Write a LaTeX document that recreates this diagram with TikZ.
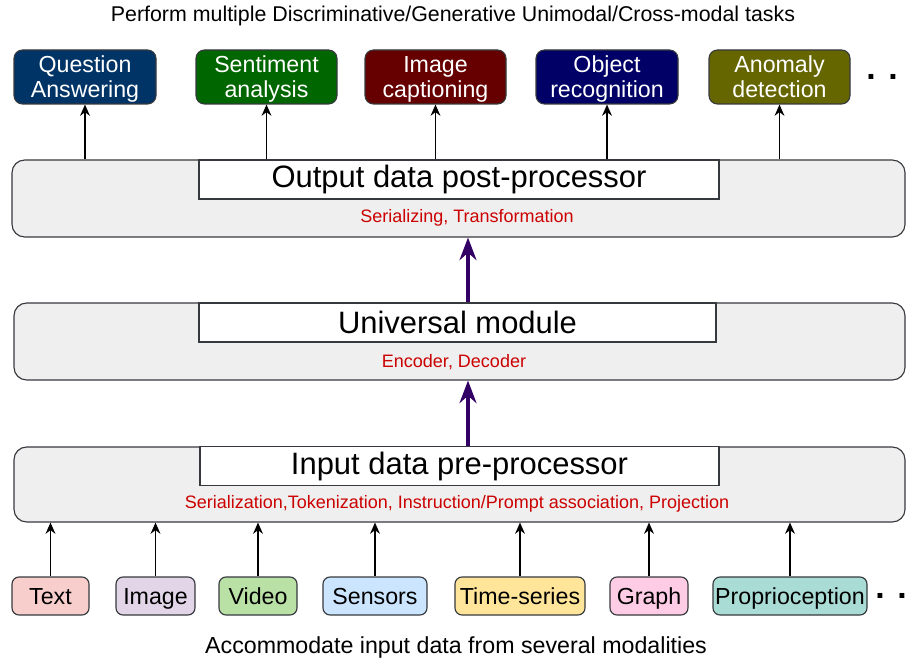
\documentclass[tikz,border=0pt]{standalone}
\usepackage{fontspec}
\setmainfont{Liberation Sans}
\usepackage{tikz}
\usetikzlibrary{positioning}
\usetikzlibrary{arrows.meta}
\usepackage{xcolor}

\definecolor{qablue}{HTML}{003366}
\definecolor{sentgreen}{HTML}{006600}
\definecolor{capred}{HTML}{660000}
\definecolor{objblue}{HTML}{000066}
\definecolor{anomolive}{HTML}{666600}
\definecolor{edgegray}{HTML}{36393D}
\definecolor{layergray}{HTML}{EFEFEF}
\definecolor{notered}{HTML}{CC0000}
\definecolor{flowpurple}{HTML}{330066}
\definecolor{textpink}{HTML}{F8CECC}
\definecolor{imagelilac}{HTML}{E1D5E7}
\definecolor{videogreen}{HTML}{B9E0A5}
\definecolor{sensorblue}{HTML}{CCE5FF}
\definecolor{timeyellow}{HTML}{FFE599}
\definecolor{graphpink}{HTML}{FFCCE6}
\definecolor{propteal}{HTML}{A9DCD4}

\newcommand{\px}{0.025cm}

\begin{document}
\begin{tikzpicture}[x=0.025cm, y=-0.025cm,
  task/.style={draw=edgegray, line width=0.8pt, rounded corners=6pt, text=white,
    minimum height=54*\px, align=center, inner sep=0pt, text height=33pt, text depth=4pt,
    font=\fontsize{16.5}{18}\selectfont},
  modality/.style={draw=edgegray, line width=0.8pt, rounded corners=5pt,
    minimum height=38*\px, inner sep=0pt, text height=15pt, text depth=3.5pt,
    font=\fontsize{16.5}{19}\selectfont},
  layer/.style={draw=edgegray, line width=0.8pt, fill=layergray, rounded corners=9pt,
    minimum width=891*\px},
  layertitle/.style={draw=edgegray, line width=0.8pt, fill=white, minimum width=519*\px,
    minimum height=39*\px, inner sep=0pt, font=\fontsize{22}{24}\selectfont},
  note/.style={text=notered, font=\fontsize{12.8}{14}\selectfont},
  caption/.style={font=\fontsize{15.2}{17}\selectfont},
  etc/.style={font=\fontsize{24}{24}\selectfont\bfseries},
  feed/.style={-{Stealth[length=8pt, width=7pt]}, line width=1pt},
  flow/.style={-{Stealth[length=16pt, width=12pt]}, line width=2.8pt, flowpurple}]

\useasboundingbox (0,0) rectangle (907,662);

%tasks on top%
\node[caption] (goal) at (453,16) {Perform multiple Discriminative/Generative Unimodal/Cross-modal tasks};

\node[task, fill=qablue, minimum width=142*\px] (qa) at (85,77) {Question\\Answering};
\node[task, fill=sentgreen, minimum width=141*\px] (sent) at (266.5,77) {Sentiment\\analysis};
\node[task, fill=capred, minimum width=141*\px] (cap) at (435.5,77) {Image\\captioning};
\node[task, fill=objblue, minimum width=142*\px] (obj) at (607,77) {Object\\recognition};
\node[task, fill=anomolive, minimum width=141*\px] (anom) at (779.5,77) {Anomaly\\detection};
\node[etc] (taskdots) at (882,77) {.\hspace{9pt}.};

%three layers%
\node[layer, minimum width=893*\px, minimum height=77*\px] (post) at (458.5,198.5) {};
\node[layertitle, minimum width=520*\px] (posttitle) at (459,179.5) {Output data post-processor};
\node[note] (postnote) at (467,218) {Serializing, Transformation};

\node[layer, minimum height=77*\px] (uni) at (459.5,341.5) {};
\node[layertitle, minimum width=517*\px] (unititle) at (457.5,322.5) {Universal module};
\node[note] (uninote) at (454,362) {Encoder, Decoder};

\node[layer, minimum height=75*\px] (pre) at (459.5,484.5) {};
\node[layertitle] (pretitle) at (459.5,466) {Input data pre-processor};
\node[note] (prenote) at (457,504) {Serialization,Tokenization, Instruction/Prompt association, Projection};

%modalities at the bottom%
\node[modality, fill=textpink, minimum width=77*\px] (txt) at (50.5,596) {Text};
\node[modality, fill=imagelilac, minimum width=79*\px] (img) at (155.5,596) {Image};
\node[modality, fill=videogreen, minimum width=78*\px] (vid) at (258,596) {Video};
\node[modality, fill=sensorblue, minimum width=104*\px] (sens) at (375,596) {Sensors};
\node[modality, fill=timeyellow, minimum width=130*\px] (ts) at (520,596) {Time-series};
\node[modality, fill=graphpink, minimum width=78*\px] (gr) at (649,596) {Graph};
\node[modality, fill=propteal, minimum width=154*\px] (prop) at (790,596) {Proprioception};
\node[etc] (moddots) at (891,596) {.\hspace{9pt}.};

\node[caption, font=\fontsize{16.5}{18}\selectfont] (source) at (456,647) {Accommodate input data from several modalities};

%arrows%
\foreach \m in {txt,img,vid,sens,ts,gr,prop} \draw[feed] (\m) -- (\m |- pre.south);
\foreach \t in {qa,sent,cap,obj,anom} \draw[feed] (\t |- post.north) -- (\t);

\coordinate (spine) at (468,0);
\draw[flow] (spine |- pre.north) -- (spine |- uni.south);
\draw[flow] (spine |- uni.north) -- (spine |- post.south);

\end{tikzpicture}
\end{document}
